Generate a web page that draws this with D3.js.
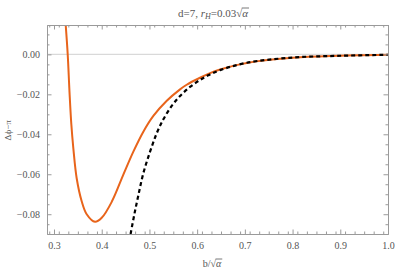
<!DOCTYPE html>
<html>
<head>
<meta charset="utf-8">
<script src="https://cdn.jsdelivr.net/npm/d3@7"></script>
<style>
  body { margin: 0; background: #fff; }
  svg text { font-family: "Liberation Serif", "Times New Roman", serif !important; fill: #555; }
</style>
</head>
<body>
<div id="chart"></div>
<script>
const orangeB = [0.3245, 0.3287, 0.3325, 0.3363, 0.3405, 0.3475, 0.358, 0.3685, 0.386, 0.400, 0.421, 0.4453, 0.4663, 0.4872, 0.5082, 0.5363, 0.5642, 0.578, 0.606, 0.627, 0.648, 0.68, 0.704, 0.738, 0.80, 0.879, 1.0];
const orangeV = [0.0147, 0.0, -0.019, -0.035, -0.047, -0.062, -0.0735, -0.0800, -0.0838, -0.0818, -0.0738, -0.0602, -0.0487, -0.0387, -0.0308, -0.0232, -0.0175, -0.0152, -0.0117, -0.0094, -0.0076, -0.0055, -0.0043, -0.0031, -0.0017, -0.0008, -0.0002];
const dashB = [0.4605, 0.468, 0.4768, 0.4872, 0.5013, 0.5153, 0.5292, 0.5467, 0.5642, 0.585, 0.606, 0.623, 0.648, 0.704, 0.80, 0.90, 1.0];
const dashV = [-0.0899, -0.0805, -0.0705, -0.0595, -0.0487, -0.0395, -0.0325, -0.0258, -0.0208, -0.0163, -0.0128, -0.0105, -0.0079, -0.0042, -0.0016, -0.0007, -0.0002];
const xTicks = [0.3, 0.4, 0.5, 0.6, 0.7, 0.8, 0.9, 1.0];
const yTicks = [0, -0.02, -0.04, -0.06, -0.08];

const W = 396, H = 273;
const margin = { top: 25, right: 8, bottom: 39, left: 47 };
const width = W - margin.left - margin.right;
const height = H - margin.top - margin.bottom;

const svg = d3.select("#chart").append("svg")
  .attr("width", W).attr("height", H)
  .attr("font-family", "Liberation Serif, serif");
const g = svg.append("g")
  .attr("transform", "translate(" + margin.left + "," + margin.top + ")");

const x = d3.scaleLinear().domain([0.2853, 1.0]).range([0, width]);
const y = d3.scaleLinear().domain([-0.0899, 0.0147]).range([height, 0]);

svg.append("defs").append("clipPath").attr("id", "clip")
  .append("rect").attr("width", width).attr("height", height);

// zero line
g.append("line")
  .attr("x1", 0).attr("x2", width)
  .attr("y1", y(0)).attr("y2", y(0))
  .attr("stroke", "#d9d9d9").attr("stroke-width", 1.2);

const plot = g.append("g").attr("clip-path", "url(#clip)");
const line = d3.line()
  .x(d => x(d[0])).y(d => y(d[1]))
  .curve(d3.curveCatmullRom.alpha(0.5));

plot.append("path")
  .datum(orangeB.map((b, i) => [b, orangeV[i]]))
  .attr("fill", "none").attr("stroke", "#e8641b").attr("stroke-width", 2)
  .attr("d", line);

plot.append("path")
  .datum(dashB.map((b, i) => [b, dashV[i]]))
  .attr("fill", "none").attr("stroke", "#000").attr("stroke-width", 2.2)
  .attr("stroke-dasharray", "4,3")
  .attr("d", line);

// frame + ticks
const frameCol = "#9a9a9a";
const xMinor = d3.range(0.29, 1.001, 0.02).filter(v => !xTicks.some(t => Math.abs(t - v) < 1e-6));
const yMinor = d3.range(-0.085, 0.0147, 0.005).filter(v => !yTicks.some(t => Math.abs(t - v) < 1e-6));

function ax(gen, pos, vals, size, labels) {
  const a = g.append("g").attr("transform", pos)
    .call(gen.tickValues(vals).tickSizeInner(size).tickSizeOuter(0)
      .tickPadding(labels ? 4 : 0)
      .tickFormat(labels ? labels : () => ""));
  a.attr("font-family", "Liberation Serif, serif");
  a.select(".domain").attr("stroke", frameCol);
  a.selectAll(".tick line").attr("stroke", frameCol);
  a.selectAll("text").attr("font-size", 10).attr("fill", "#555");
  return a;
}
const fx = d => d === 1 ? "1.0" : d3.format(".1f")(d);
const fy = d => d === 0 ? "0.00" : d3.format(".2f")(d).replace("-", "\u2212");

ax(d3.axisBottom(x), "translate(0," + height + ")", xTicks, -4.5, fx).selectAll("text").attr("dy", "1.1em");
ax(d3.axisBottom(x), "translate(0," + height + ")", xMinor, -2.5, null);
ax(d3.axisTop(x), "translate(0,0)", xTicks, -4.5, null);
ax(d3.axisTop(x), "translate(0,0)", xMinor, -2.5, null);
ax(d3.axisLeft(y), "translate(0,0)", yTicks, -4.5, fy).selectAll("text").attr("x", -7);
ax(d3.axisLeft(y), "translate(0,0)", yMinor, -2.5, null);
ax(d3.axisRight(y), "translate(" + width + ",0)", yTicks, -4.5, null);
ax(d3.axisRight(y), "translate(" + width + ",0)", yMinor, -2.5, null);

// title
const title = svg.append("text").attr("x", 213).attr("y", 17)
  .attr("text-anchor", "middle").attr("font-size", 11);
title.append("tspan").text("d=7, ");
title.append("tspan").attr("font-style", "italic").text("r");
title.append("tspan").attr("font-style", "italic").attr("font-size", 8).attr("dy", 2).text("H");
title.append("tspan").attr("dy", -2).text("=0.03\u221a");
const ta = title.append("tspan").attr("font-style", "italic").text("\u03b1");

// x label
const xl = svg.append("text").attr("x", 212).attr("y", 267)
  .attr("text-anchor", "middle").attr("font-size", 10);
xl.append("tspan").text("b/\u221a");
const xa = xl.append("tspan").attr("font-style", "italic").text("\u03b1");

// overbars for the radicals
function bar(tsp) {
  const n = tsp.node();
  const st = n.getStartPositionOfChar(0), en = n.getEndPositionOfChar(0);
  const bb = n.getExtentOfChar(0);
  svg.append("line")
    .attr("x1", st.x - 0.5).attr("x2", en.x + 1)
    .attr("y1", bb.y + 1).attr("y2", bb.y + 1)
    .attr("stroke", "#555").attr("stroke-width", 0.8);
}
bar(ta); bar(xa);

// y label
svg.append("text")
  .attr("transform", "translate(11," + (margin.top + y(-0.038)) + ") rotate(-90)")
  .attr("text-anchor", "middle").attr("font-size", 9)
  .text("\u0394\u03d5\u2212\u03c0");
</script>
</body>
</html>
